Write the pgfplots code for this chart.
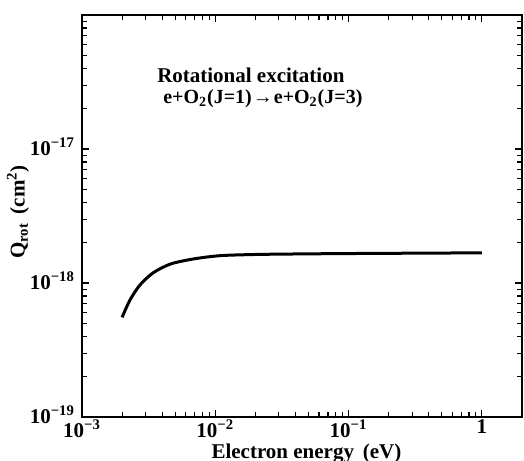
\documentclass[border=0pt]{standalone}
\usepackage{fontspec}
\setmainfont{Liberation Serif}
\usepackage{pgfplots}
\pgfplotsset{compat=1.18}
\begin{document}
\begin{tikzpicture}
\begin{axis}[
  name=main,
  scale only axis, width=220pt, height=201pt,
  xmode=log, ymode=log,
  xmin=1e-3, xmax=2, ymin=1e-19, ymax=1e-16,
  xtick={1e-3,1e-2,1e-1,1},
  xticklabels={10\textsuperscript{−3},10\textsuperscript{−2},10\textsuperscript{−1},1},
  ytick={1e-19,1e-18,1e-17},
  yticklabels={10\textsuperscript{−19},10\textsuperscript{−18},10\textsuperscript{−17}},
  minor xtick={2e-3,3e-3,4e-3,5e-3,6e-3,7e-3,8e-3,9e-3,2e-2,3e-2,4e-2,5e-2,6e-2,7e-2,8e-2,9e-2,2e-1,3e-1,4e-1,5e-1,6e-1,7e-1,8e-1,9e-1},
  minor ytick={2e-19,3e-19,4e-19,5e-19,6e-19,7e-19,8e-19,9e-19,2e-18,3e-18,4e-18,5e-18,6e-18,7e-18,8e-18,9e-18,2e-17,3e-17,4e-17,5e-17,6e-17,7e-17,8e-17,9e-17},
  tick align=inside,
  major tick length=3.5pt, minor tick length=2.5pt,
  every tick/.style={black, line width=0.6pt},
  axis line style={line width=1pt},
  tick label style={font=\bfseries\fontsize{10.5}{12}\selectfont},
  xticklabel style={yshift=2pt},
  yticklabel style={yshift=1pt},
  label style={font=\bfseries\fontsize{10.5}{12}\selectfont},
  xlabel={Electron energy\, (eV)},
  ylabel={Q\textsubscript{rot}\, (cm\textsuperscript{2})},
  xlabel style={at={(rel axis cs:0.51,0)}, anchor=base, yshift=-20.5pt},
  ylabel style={at={(rel axis cs:0,0.51)}, anchor=center, rotate=0, yshift=32pt},
  clip=false,
]
\addplot[black, line width=1.5pt, smooth] coordinates {
  (2e-3, 5.55e-19)
  (2.29e-3, 7.46e-19)
  (2.72e-3, 9.66e-19)
  (3.41e-3, 1.19e-18)
  (4.55e-3, 1.38e-18)
  (6.07e-3, 1.48e-18)
  (8.07e-3, 1.55e-18)
  (1.08e-2, 1.60e-18)
  (1.44e-2, 1.62e-18)
  (2.55e-2, 1.64e-18)
  (1e-1, 1.66e-18)
  (1, 1.68e-18)
};
\node[anchor=base west, font=\bfseries\fontsize{10.5}{12}\selectfont] at (rel axis cs:0.155,0.831) {Rotational excitation};
\node[anchor=base west, font=\bfseries\fontsize{10}{12}\selectfont, inner sep=0pt] at (rel axis cs:0.184,0.779) {e+O\textsubscript{2}(J=1)\kern0.5pt→\kern0.5pt e+O\textsubscript{2}(J=3)};
\end{axis}
\pgfresetboundingbox
\path (main.south west) ++(-41pt,-21.5pt) rectangle ++(262pt,230pt);
\end{tikzpicture}
\end{document}
